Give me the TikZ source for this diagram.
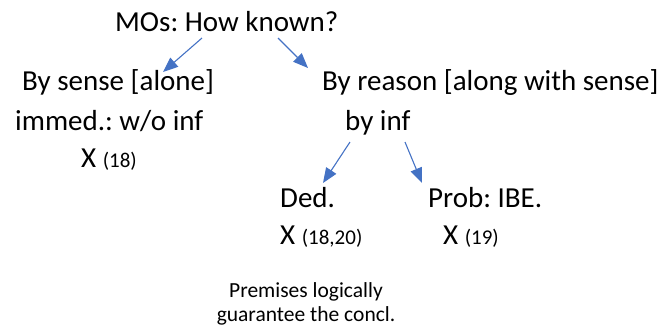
\documentclass[tikz,border=0pt]{standalone}
\usepackage{fontspec}
\setmainfont{Carlito}
\usetikzlibrary{arrows.meta,calc}
\definecolor{arrblue}{HTML}{4472C4}
\newcommand{\secno}[1]{{\fontsize{21}{24}\selectfont #1}}
\frenchspacing
\begin{document}
\begin{tikzpicture}[x=1pt,y=1pt,yscale=-1,xscale=1,
  txt/.style={anchor=base west,inner sep=0pt,font=\fontsize{29}{34}\selectfont},
  arr/.style={draw=arrblue,line width=1.1pt,-{Triangle[length=15pt,width=12pt]}}]
\useasboundingbox (0,0) rectangle (665,333);

% Text Node
\node[txt] (mos) at (115,31) {MOs: How known?};
% Text Node
\node[txt] (sense) at (22,90) {By sense [alone]};
% Text Node
\node[txt] (immed) at (15,130) {immed.: w/o inf};
% Text Node
\node[txt] (xsense) at (81,167) {X \secno{(18)}};
% Text Node
\node[txt] (reason) at (322,90) {By reason [along with sense]};
% Text Node
\node[txt] (byinf) at (345,130) {by inf};
% Text Node
\node[txt] (ded) at (280,207) {Ded.};
% Text Node
\node[txt] (xded) at (280,244) {X \secno{(18,20)}};
% Text Node
\node[txt] (prob) at (428,207) {Prob: IBE.};
% Text Node
\node[txt] (xprob) at (443,244) {X \secno{(19)}};
% Text Node
\node[anchor=base,inner sep=0pt,align=center,font=\fontsize{21.5}{24}\selectfont] (prem) at (306,321) {Premises logically\\guarantee the concl.};

% Straight Lines
\draw[arr] ($(mos.base west)+(87,7)$) -- ($(sense.base west)+(141,-18)$);
\draw[arr] ($(mos.base west)+(163,7)$) -- ($(reason.base west)+(-14,-22)$);
\draw[arr] ($(byinf.base west)+(5,12)$) -- ($(ded.base west)+(43,-24)$);
\draw[arr] ($(byinf.base west)+(60,12)$) -- ($(prob.base west)+(-6,-24)$);
\end{tikzpicture}
\end{document}
